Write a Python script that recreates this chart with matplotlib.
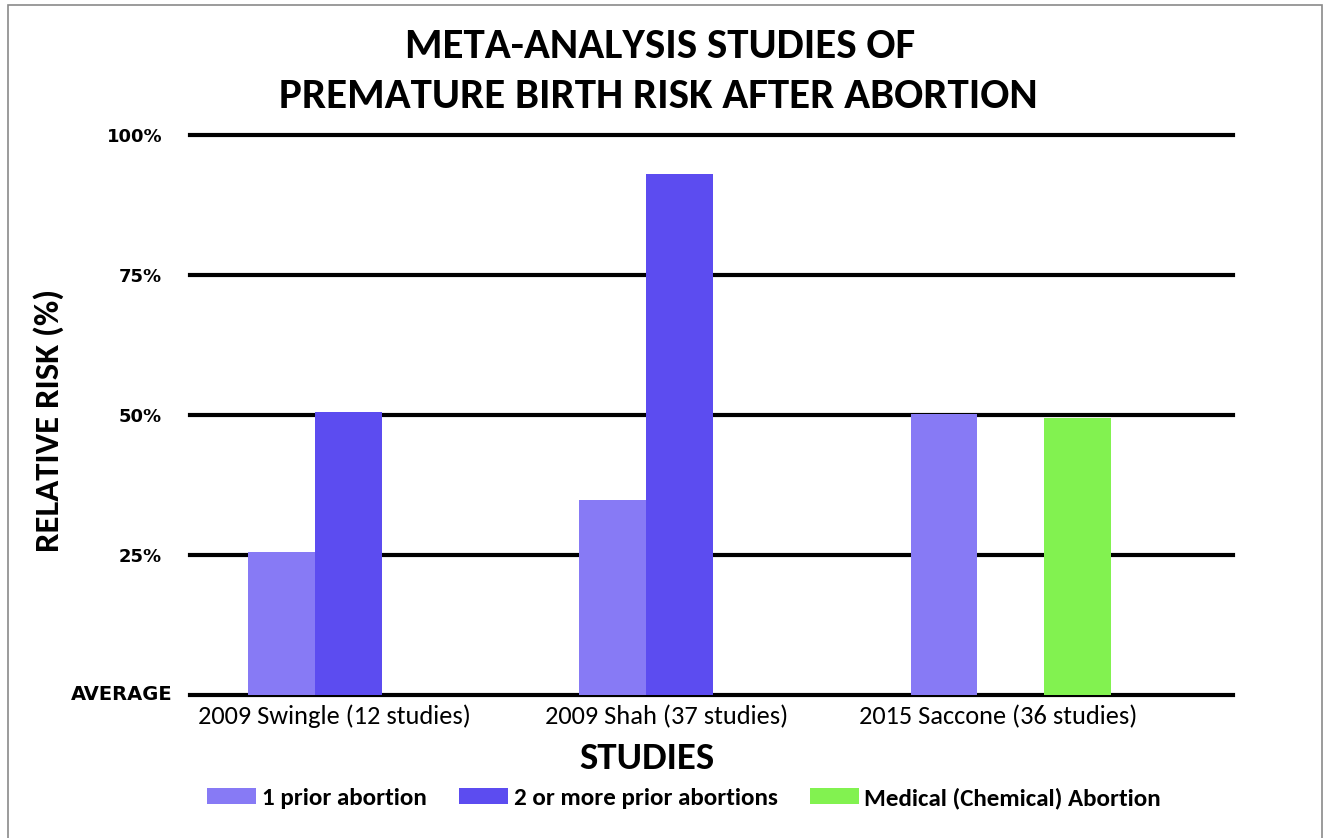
import matplotlib
matplotlib.use("Agg")
import matplotlib.pyplot as plt
import matplotlib.transforms as mtransforms
import numpy as np
from matplotlib import font_manager
from matplotlib.patches import Rectangle

# data
studies = ["2009 Swingle (12 studies)", "2009 Shah (37 studies)", "2015 Saccone (36 studies)"]
one_prior = [25.5, 34.8, 50.2]
two_plus = [50.5, 93.0, np.nan]
medical = [np.nan, np.nan, 49.5]
series_names = ["1 prior abortion", "2 or more prior abortions", "Medical (Chemical) Abortion"]
y_ticks = [0, 25, 50, 75, 100]
y_ticklabels = ["AVERAGE", "25%", "50%", "75%", "100%"]

COLORS = ["#877af5", "#5c4cf0", "#82f250"]

# Calibri look-alike if we have it
names = {f.name for f in font_manager.fontManager.ttflist}
NARROW = "DejaVu Sans"
for cand in ["Carlito", "Archivo Narrow", "Barlow Semi Condensed", "Open Sans"]:
    if cand in names:
        NARROW = cand
        break

fig = plt.figure(figsize=(13.24, 8.38), dpi=100)
W, H = 1324, 838

def fx(px):
    return px / W

def fy(py):
    return 1 - py / H

# light grey frame around the picture
fig.patches.append(Rectangle((fx(8), fy(900)), fx(1322) - fx(8), fy(5) - fy(900),
                             transform=fig.transFigure, fill=False,
                             edgecolor="#8a8a8a", linewidth=1.2))

ax = fig.add_axes([fx(190), fy(695), fx(1233) - fx(190), fy(135) - fy(695)])
x = np.arange(len(studies))
w = 0.202
ax.bar(x - w, one_prior, w, color=COLORS[0], label=series_names[0], zorder=3)
ax.bar(x, two_plus, w, color=COLORS[1], label=series_names[1], zorder=3)
ax.bar(x + w, medical, w, color=COLORS[2], label=series_names[2], zorder=3)

for yv in y_ticks:
    ax.axhline(yv, color="black", linewidth=3, zorder=2, clip_on=False)

ax.set_xlim(-0.477, 2.67)
ax.set_ylim(0, 100)
for s in ax.spines.values():
    s.set_visible(False)

# percent ticks on the axis, the baseline label sits a bit closer and larger
ax.set_yticks(y_ticks[1:])
ax.set_yticklabels(y_ticklabels[1:], fontsize=13, fontweight="bold", family="DejaVu Sans")
ax.tick_params(axis="y", length=0, pad=20)
base_tr = mtransforms.blended_transform_factory(ax.transAxes, ax.transData)
ax.text(-0.017, y_ticks[0], y_ticklabels[0], transform=base_tr, ha="right", va="center",
        fontsize=14, fontweight="bold", family="DejaVu Sans")

ax.set_xticks(x - 0.04)
ax.set_xticklabels(studies, fontsize=19, family=NARROW)
ax.tick_params(axis="x", length=0, pad=7)

fig.text(fx(660), fy(46), "META-ANALYSIS STUDIES OF", ha="center", va="center",
         fontsize=31, fontweight="bold", family=NARROW)
fig.text(fx(658), fy(97), "PREMATURE BIRTH RISK AFTER ABORTION", ha="center", va="center",
         fontsize=31, fontweight="bold", family=NARROW)
fig.text(fx(49), fy(420), "RELATIVE RISK (%)", rotation=90, ha="center", va="center",
         fontsize=25, fontweight="bold", family=NARROW)
fig.text(fx(647), fy(758), "STUDIES", ha="center", va="center",
         fontsize=28, fontweight="bold", family=NARROW)

leg = fig.legend(loc="center", bbox_to_anchor=(fx(684), fy(798)), ncol=3, frameon=False,
                 prop={"family": NARROW, "size": 18, "weight": "bold"},
                 handlelength=1.96, handleheight=0.56,
                 handletextpad=0.24, columnspacing=1.28)

fig.savefig("out.png", dpi=100)
